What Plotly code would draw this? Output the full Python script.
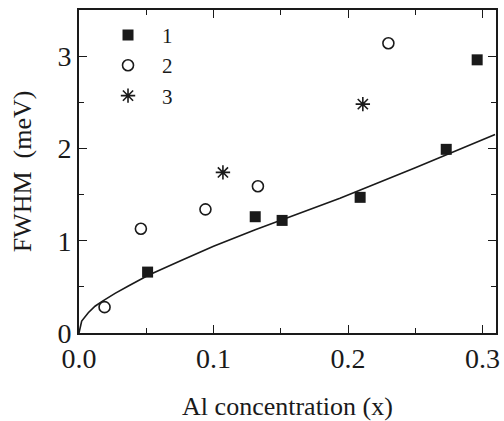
import plotly.graph_objects as go

# Series 1 (filled squares)
x1 = [0.051, 0.131, 0.151, 0.209, 0.273, 0.296]
y1 = [0.66, 1.26, 1.22, 1.47, 1.99, 2.96]
# Series 2 (open circles)
x2 = [0.019, 0.046, 0.094, 0.133, 0.230]
y2 = [0.28, 1.13, 1.34, 1.59, 3.14]
# Series 3 (asterisks)
x3 = [0.107, 0.211]
y3 = [1.74, 2.48]
# Fitted curve
xc = [0.0, 0.002, 0.0069, 0.0119, 0.0169, 0.0268, 0.0367, 0.0466, 0.0515, 0.0751, 0.10, 0.131, 0.1494, 0.194, 0.25, 0.3093]
yc = [0.0, 0.13, 0.22, 0.29, 0.34, 0.43, 0.51, 0.59, 0.625, 0.78, 0.94, 1.12, 1.22, 1.46, 1.79, 2.15]

ink = "#1a1a1a"
font = "Liberation Serif, Times New Roman, serif"

fig = go.Figure()
fig.add_trace(go.Scatter(x=xc, y=yc, mode="lines", line=dict(color=ink, width=1.6),
                         showlegend=False, hoverinfo="skip"))
fig.add_trace(go.Scatter(x=x1, y=y1, mode="markers", name="1",
                         marker=dict(symbol="square", size=11, color=ink)))
fig.add_trace(go.Scatter(x=x2, y=y2, mode="markers", name="2",
                         marker=dict(symbol="circle-open", size=11, color=ink, line=dict(width=1.6, color=ink))))
fig.add_trace(go.Scatter(x=x3, y=y3, mode="markers", name="3",
                         marker=dict(symbol="asterisk-open", size=12, color=ink, line=dict(width=1.6, color=ink))))

axis_common = dict(showline=True, linecolor=ink, linewidth=1.6, mirror="ticks", ticks="inside",
                   tickcolor=ink, tickwidth=1.4, ticklen=8, showgrid=False, zeroline=False,
                   automargin=False, tickfont=dict(family=font, size=28, color=ink))

fig.update_xaxes(range=[0, 0.31], dtick=0.1, tick0=0, tickformat=".1f",
                 minor=dict(ticks="inside", dtick=0.05, ticklen=5, tickcolor=ink, tickwidth=1.4),
                 title=dict(text="Al concentration (x)", font=dict(family=font, size=26, color=ink), standoff=26),
                 **axis_common)
fig.update_yaxes(range=[0, 3.5], dtick=1, tick0=0,
                 minor=dict(ticks="inside", dtick=0.5, ticklen=5, tickcolor=ink, tickwidth=1.4),
                 title=dict(text="FWHM  (meV)", font=dict(family=font, size=26, color=ink), standoff=18),
                 **axis_common)

fig.update_layout(
    width=504, height=421,
    margin=dict(l=79, r=8, t=10, b=88),
    paper_bgcolor="white", plot_bgcolor="white",
    legend=dict(x=0.036, y=0.985, xanchor="left", yanchor="top", bgcolor="rgba(0,0,0,0)",
                font=dict(family=font, size=21, color=ink), itemwidth=58, tracegroupgap=0),
)

fig.write_html("out.html", config={"displayModeBar": False},
               post_script="document.body.style.margin='0';document.body.style.overflow='hidden';")
